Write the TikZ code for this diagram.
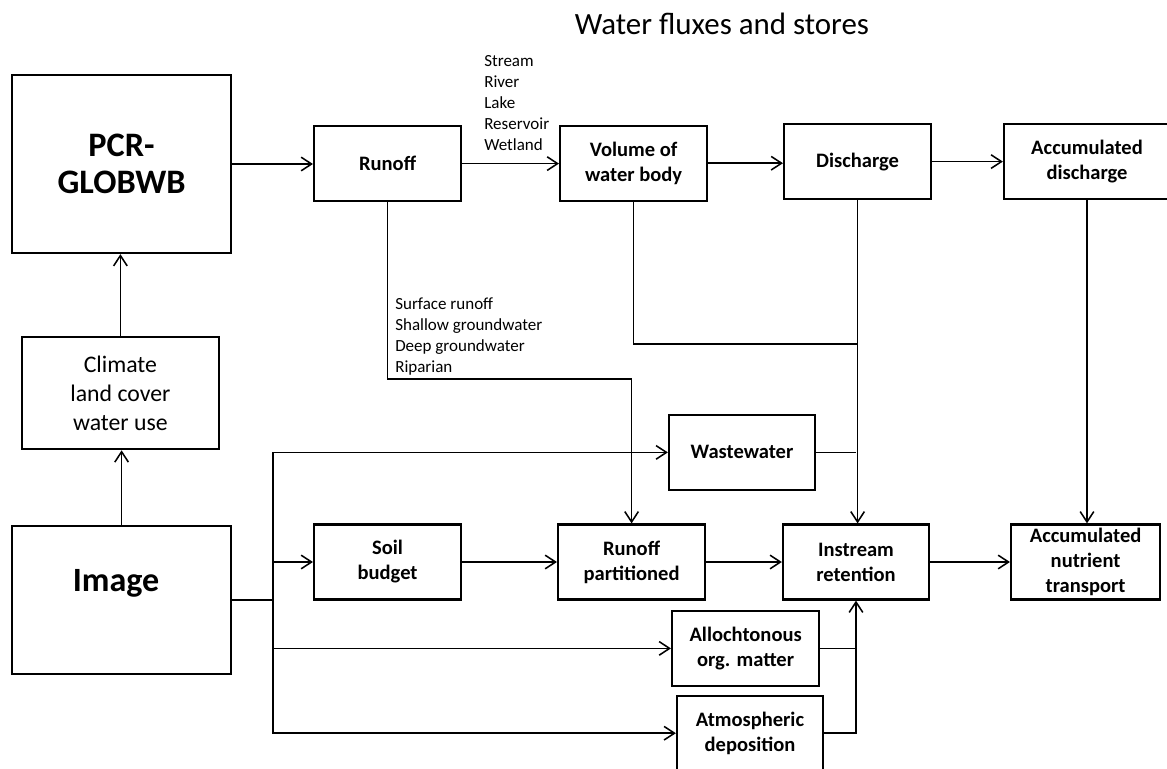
\documentclass[tikz,border=0pt]{standalone}
\usepackage{fontspec}
\setmainfont{Carlito}
\usepackage{tikz}
\usetikzlibrary{arrows.meta,positioning,calc}

\begin{document}
\begin{tikzpicture}[
  box/.style={draw, line width=1.6pt, minimum width=3.675cm, minimum height=1.875cm, align=center, inner sep=2pt},
  boxtxt/.style={font=\fontsize{14.6}{17.8}\selectfont\bfseries},
  conn/.style={line width=1.1pt, -{Straight Barb[length=2.6mm, width=3.4mm]}},
  link/.style={line width=1.1pt},
  lst/.style={font=\fontsize{12.1}{14.9}\selectfont, align=left, anchor=west, inner sep=0pt},
]

\useasboundingbox (0,0) rectangle (29.175,-19.225);

\def\trunkx{6.825}

% --- title ---
\node[font=\fontsize{22}{26}\selectfont] (title) at (18.05,-0.6) {Water fluxes and stores};

% --- left column ---
\node[box, minimum width=5.475cm, minimum height=4.45cm, font=\fontsize{24.4}{26.3}\selectfont\bfseries] (pcr) at (3.04,-4.10) {PCR-\\GLOBWB};
\node[box, minimum width=4.925cm, minimum height=2.8cm, font=\fontsize{16.9}{20.6}\selectfont] (climate) at (3.01,-9.83) {Climate\\land cover\\water use};
\node[box, minimum width=5.475cm, minimum height=3.7cm] (image) at (3.04,-15.0) {};
\node[font=\fontsize{24.2}{28}\selectfont\bfseries] (imagetxt) at (2.9,-14.575) {Image};

% --- water fluxes row ---
\node[box, boxtxt] (runoff) at (9.69,-4.09) {Runoff};
\node[box, boxtxt] (volume) at (15.84,-4.08) {Volume of\\water body};
\node[box, boxtxt] (discharge) at (21.44,-4.04) {Discharge};
\node[box, boxtxt, minimum width=4.15cm] (accdis) at (27.175,-4.04) {Accumulated\\discharge};

% --- nutrient row ---
\node[box, boxtxt] (soil) at (9.69,-14.05) {Soil\\budget};
\node[box, boxtxt] (rpart) at (15.79,-14.05) {Runoff\\partitioned};
\node[box, boxtxt, minimum width=3.65cm] (instream) at (21.40,-14.05) {Instream\\retention};
\node[box, boxtxt, minimum width=3.725cm] (accnut) at (27.14,-14.05) {Accumulated\\nutrient\\transport};

% --- sources ---
\node[box, boxtxt, minimum width=3.65cm] (waste) at (18.55,-11.31) {Wastewater};
\node[box, boxtxt] (allo) at (18.64,-16.21) {Allochtonous\\org. matter};
\node[box, boxtxt, minimum width=3.65cm, minimum height=1.85cm] (atmo) at (18.75,-18.33) {Atmospheric\\deposition};

% --- lists ---
\node[lst] (wbtypes) at (12.1,-2.575) {Stream\\River\\Lake\\Reservoir\\Wetland};
\node[lst] (rotypes) at (9.875,-8.41) {Surface runoff\\Shallow groundwater\\Deep groundwater\\Riparian};

% --- connectors ---
\draw[conn] (image.north) -- (image.north |- climate.south);
\draw[conn] (climate.north) -- (climate.north |- pcr.south);
\draw[conn] (pcr.east) -- (pcr.east -| runoff.west);
\draw[conn] (runoff.east) -- (runoff.east -| volume.west);
\draw[conn] (volume.east) -- (volume.east -| discharge.west);
\draw[conn] (discharge.east) -- (discharge.east -| accdis.west);

\draw[conn] (runoff.south) -- ++(0,-4.425) -| (rpart.north);
\draw[link] (volume.south) |- (discharge.south |- 0,-8.6);
\draw[conn] (discharge.south) -- (discharge.south |- instream.north);
\draw[conn] (accdis.south) -- (accdis.south |- accnut.north);

\coordinate (trunk) at (\trunkx,-15.0);
\draw[link] (image.east) -- (trunk);
\draw[conn] (trunk) |- (waste.west);
\draw[conn] (trunk) |- (soil.west);
\draw[conn] (trunk) |- (allo.west);
\draw[conn] (trunk) |- (atmo.west);

\draw[conn] (soil.east) -- (rpart.west);
\draw[conn] (rpart.east) -- (instream.west);
\draw[conn] (instream.east) -- (accnut.west);

\draw[link] (waste.east) -- (waste.east -| instream.north);
\draw[link] (allo.east) -- (allo.east -| instream.south);
\draw[conn] (atmo.east) -| (instream.south);

\end{tikzpicture}
\end{document}
